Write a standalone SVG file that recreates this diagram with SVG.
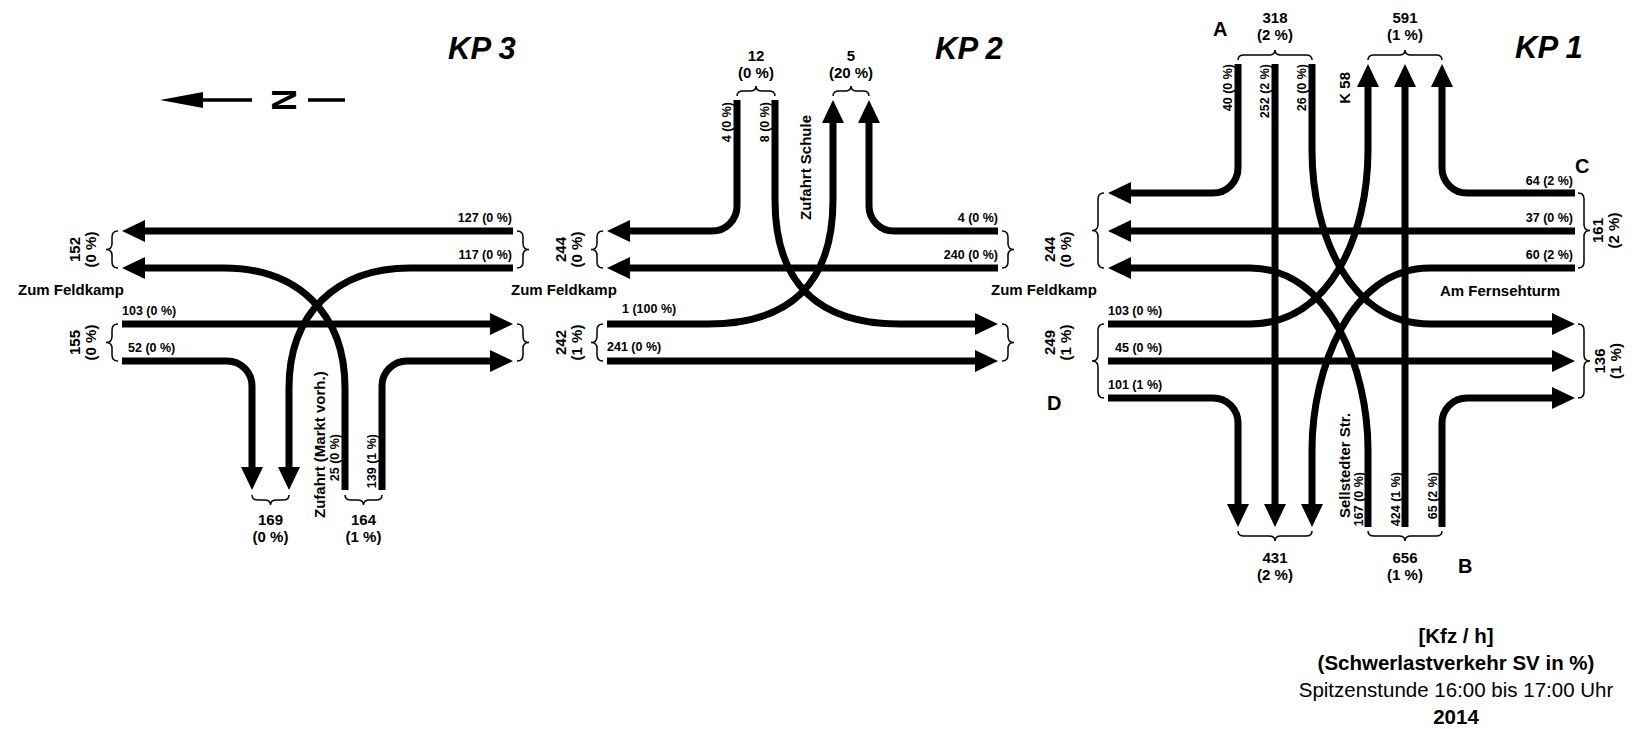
<svg xmlns="http://www.w3.org/2000/svg" width="1645" height="729" viewBox="0 0 1645 729">
  <style>
    text { font-family: "Liberation Sans", Arial, sans-serif; fill: #000; }
    .flow { fill: none; stroke: #000; stroke-width: 7; }
    .brace { fill: none; stroke: #000; stroke-width: 1.5; }
    .lbl { font-size: 12.5px; font-weight: bold; }
    .tot { font-size: 15px; font-weight: bold; text-anchor: middle; }
    .road { font-size: 15px; font-weight: bold; }
    .title { font-size: 31px; font-weight: bold; font-style: italic; }
    .pt { font-size: 20px; font-weight: bold; }
    .leg { font-size: 20.5px; text-anchor: middle; }
  </style>
  <defs>
    <marker id="ah" viewBox="0 0 23 22" refX="1" refY="11" markerWidth="23" markerHeight="22" markerUnits="userSpaceOnUse" orient="auto">
      <path d="M0,0 L23,11 L0,22 Z" fill="#000"/>
    </marker>
  </defs>
  <rect width="1645" height="729" fill="#fff"/>

  <!-- north arrow -->
  <g id="north">
    <polygon points="160,100 203,92 203,108" fill="#000"/>
    <line x1="202" y1="100" x2="252" y2="100" stroke="#000" stroke-width="3.5"/>
    <text transform="translate(296,100) rotate(-90) scale(0.85,1)" text-anchor="middle" font-size="36" font-weight="bold">N</text>
    <line x1="308" y1="100" x2="345" y2="100" stroke="#000" stroke-width="3.5"/>
  </g>

  <!-- traffic flows -->
  <g id="flows" marker-end="url(#ah)">
    <!-- KP 3 -->
    <path class="flow" d="M513 231 H144"/>
    <path class="flow" d="M513 268 H410 C337 268 289 313 289 388 V468"/>
    <path class="flow" d="M345 490 V388 C345 313 297 268 224 268 H144"/>
    <path class="flow" d="M122 324 H491"/>
    <path class="flow" d="M122 361 H227 A25 25 0 0 1 252 386 V468"/>
    <path class="flow" d="M382 490 V386 A25 25 0 0 1 407 361 H491"/>
    <!-- KP 2 -->
    <path class="flow" d="M737 100 V206 A25 25 0 0 1 712 231 H629"/>
    <path class="flow" d="M998 268 H629"/>
    <path class="flow" d="M775 100 V200 C775 285 820 324 900 324 H976"/>
    <path class="flow" d="M607 324 H708 C788 324 833 285 833 200 V122"/>
    <path class="flow" d="M998 231 H894 A25 25 0 0 1 869 206 V122"/>
    <path class="flow" d="M607 361 H976"/>
    <!-- KP 1 -->
    <path class="flow" d="M1238 64 V168 A25 25 0 0 1 1213 193 H1130"/>
    <path class="flow" d="M1275 64 V505"/>
    <path class="flow" d="M1312 64 V150 C1312 235 1350 324 1430 324 H1553"/>
    <path class="flow" d="M1575 193 H1467 A25 25 0 0 1 1442 168 V86"/>
    <path class="flow" d="M1575 231 H1130"/>
    <path class="flow" d="M1575 268 H1430 C1350 268 1312 370 1312 450 V505"/>
    <path class="flow" d="M1108 324 H1250 C1330 324 1368 235 1368 150 V86"/>
    <path class="flow" d="M1108 361 H1553"/>
    <path class="flow" d="M1108 398 H1213 A25 25 0 0 1 1238 423 V505"/>
    <path class="flow" d="M1368 527 V450 C1368 370 1330 268 1250 268 H1130"/>
    <path class="flow" d="M1405 527 V86"/>
    <path class="flow" d="M1442 527 V423 A25 25 0 0 1 1467 398 H1553"/>
  </g>

  <!-- KP 3 -->
  <g id="kp3">
    <text class="title" x="448" y="59">KP 3</text>
    <path class="brace" d="M118 231 Q112 231 112 237 L112 243.5 Q112 249.5 106 249.5 Q112 249.5 112 255.5 L112 262 Q112 268 118 268"/>
    <path class="brace" d="M118 324 Q112 324 112 330 L112 336.5 Q112 342.5 106 342.5 Q112 342.5 112 348.5 L112 355 Q112 361 118 361"/>
    <path class="brace" d="M517 231 Q523 231 523 237 L523 243.5 Q523 249.5 529 249.5 Q523 249.5 523 255.5 L523 262 Q523 268 517 268"/>
    <path class="brace" d="M517 324 Q523 324 523 330 L523 336.5 Q523 342.5 529 342.5 Q523 342.5 523 348.5 L523 355 Q523 361 517 361"/>
    <path class="brace" d="M252 495 Q252 500 258 500 L264.5 500 Q270.5 500 270.5 505 Q270.5 500 276.5 500 L283 500 Q289 500 289 495"/>
    <path class="brace" d="M345 495 Q345 500 351 500 L357.5 500 Q363.5 500 363.5 505 Q363.5 500 369.5 500 L376 500 Q382 500 382 495"/>
    <text class="lbl" x="512" y="222" text-anchor="end">127 (0 %)</text>
    <text class="lbl" x="512" y="259" text-anchor="end">117 (0 %)</text>
    <text class="lbl" x="122" y="315">103 (0 %)</text>
    <text class="lbl" x="128" y="352">52 (0 %)</text>
    <text class="lbl" text-anchor="end" transform="translate(339,434) rotate(-90)">25 (0 %)</text>
    <text class="lbl" text-anchor="end" transform="translate(376,434) rotate(-90)">139 (1 %)</text>
    <text class="road" transform="translate(325,518) rotate(-90)">Zufahrt (Markt vorh.)</text>
    <text class="road" x="18" y="295">Zum Feldkamp</text>
    <text class="tot" transform="translate(80,249.5) rotate(-90)">152</text>
    <text class="tot" transform="translate(96,249.5) rotate(-90)">(0 %)</text>
    <text class="tot" transform="translate(80,342.5) rotate(-90)">155</text>
    <text class="tot" transform="translate(96,342.5) rotate(-90)">(0 %)</text>
    <text class="tot" transform="translate(566,249.5) rotate(-90)">244</text>
    <text class="tot" transform="translate(582,249.5) rotate(-90)">(0 %)</text>
    <text class="tot" transform="translate(566,342.5) rotate(-90)">242</text>
    <text class="tot" transform="translate(582,342.5) rotate(-90)">(1 %)</text>
    <text class="tot" x="270.5" y="525">169</text>
    <text class="tot" x="270.5" y="542">(0 %)</text>
    <text class="tot" x="363.5" y="525">164</text>
    <text class="tot" x="363.5" y="542">(1 %)</text>
  </g>

  <!-- KP 2 -->
  <g id="kp2">
    <text class="title" x="935" y="59">KP 2</text>
    <path class="brace" d="M603 231 Q597 231 597 237 L597 243.5 Q597 249.5 591 249.5 Q597 249.5 597 255.5 L597 262 Q597 268 603 268"/>
    <path class="brace" d="M603 324 Q597 324 597 330 L597 336.5 Q597 342.5 591 342.5 Q597 342.5 597 348.5 L597 355 Q597 361 603 361"/>
    <path class="brace" d="M1002 231 Q1008 231 1008 237 L1008 243.5 Q1008 249.5 1014 249.5 Q1008 249.5 1008 255.5 L1008 262 Q1008 268 1002 268"/>
    <path class="brace" d="M1002 324 Q1008 324 1008 330 L1008 336.5 Q1008 342.5 1014 342.5 Q1008 342.5 1008 348.5 L1008 355 Q1008 361 1002 361"/>
    <path class="brace" d="M737 96 Q737 91 743 91 L750 91 Q756 91 756 86 Q756 91 762 91 L769 91 Q775 91 775 96"/>
    <path class="brace" d="M833 96 Q833 91 839 91 L845 91 Q851 91 851 86 Q851 91 857 91 L863 91 Q869 91 869 96"/>
    <text class="tot" x="756" y="61">12</text>
    <text class="tot" x="756" y="78">(0 %)</text>
    <text class="tot" x="851" y="61">5</text>
    <text class="tot" x="851" y="78">(20 %)</text>
    <text class="lbl" x="998" y="222" text-anchor="end">4 (0 %)</text>
    <text class="lbl" x="998" y="259" text-anchor="end">240 (0 %)</text>
    <text class="lbl" x="622" y="313">1 (100 %)</text>
    <text class="lbl" x="607" y="351">241 (0 %)</text>
    <text class="lbl" text-anchor="end" transform="translate(731,102) rotate(-90)">4 (0 %)</text>
    <text class="lbl" text-anchor="end" transform="translate(769,102) rotate(-90)">8 (0 %)</text>
    <text class="road" transform="translate(811,220) rotate(-90)">Zufahrt Schule</text>
    <text class="road" x="511" y="295">Zum Feldkamp</text>
    <text class="tot" transform="translate(1055,249.5) rotate(-90)">244</text>
    <text class="tot" transform="translate(1071,249.5) rotate(-90)">(0 %)</text>
    <text class="tot" transform="translate(1055,342.5) rotate(-90)">249</text>
    <text class="tot" transform="translate(1071,342.5) rotate(-90)">(1 %)</text>
  </g>

  <!-- KP 1 -->
  <g id="kp1">
    <text class="title" x="1515" y="58">KP 1</text>
    <path class="brace" d="M1104 193 Q1098 193 1098 199 L1098 224.5 Q1098 230.5 1092 230.5 Q1098 230.5 1098 236.5 L1098 262 Q1098 268 1104 268"/>
    <path class="brace" d="M1104 324 Q1098 324 1098 330 L1098 355 Q1098 361 1092 361 Q1098 361 1098 367 L1098 392 Q1098 398 1104 398"/>
    <path class="brace" d="M1578 193 Q1584 193 1584 199 L1584 224.5 Q1584 230.5 1590 230.5 Q1584 230.5 1584 236.5 L1584 262 Q1584 268 1578 268"/>
    <path class="brace" d="M1578 324 Q1584 324 1584 330 L1584 355 Q1584 361 1590 361 Q1584 361 1584 367 L1584 392 Q1584 398 1578 398"/>
    <path class="brace" d="M1238 60 Q1238 55 1244 55 L1269 55 Q1275 55 1275 50 Q1275 55 1281 55 L1306 55 Q1312 55 1312 60"/>
    <path class="brace" d="M1368 60 Q1368 55 1374 55 L1399 55 Q1405 55 1405 50 Q1405 55 1411 55 L1436 55 Q1442 55 1442 60"/>
    <path class="brace" d="M1238 531 Q1238 536 1244 536 L1269 536 Q1275 536 1275 541 Q1275 536 1281 536 L1306 536 Q1312 536 1312 531"/>
    <path class="brace" d="M1368 531 Q1368 536 1374 536 L1399 536 Q1405 536 1405 541 Q1405 536 1411 536 L1436 536 Q1442 536 1442 531"/>
    <text class="tot" x="1275" y="23">318</text>
    <text class="tot" x="1275" y="40">(2 %)</text>
    <text class="tot" x="1405" y="23">591</text>
    <text class="tot" x="1405" y="40">(1 %)</text>
    <text class="tot" x="1275" y="563">431</text>
    <text class="tot" x="1275" y="580">(2 %)</text>
    <text class="tot" x="1405" y="563">656</text>
    <text class="tot" x="1405" y="580">(1 %)</text>
    <text class="tot" transform="translate(1603,230.5) rotate(-90)">161</text>
    <text class="tot" transform="translate(1619,230.5) rotate(-90)">(2 %)</text>
    <text class="tot" transform="translate(1605,361) rotate(-90)">136</text>
    <text class="tot" transform="translate(1621,361) rotate(-90)">(1 %)</text>
    <text class="lbl" x="1573" y="185" text-anchor="end">64 (2 %)</text>
    <text class="lbl" x="1573" y="222" text-anchor="end">37 (0 %)</text>
    <text class="lbl" x="1573" y="259" text-anchor="end">60 (2 %)</text>
    <text class="lbl" x="1108" y="315">103 (0 %)</text>
    <text class="lbl" x="1115" y="352">45 (0 %)</text>
    <text class="lbl" x="1108" y="389">101 (1 %)</text>
    <text class="lbl" text-anchor="end" transform="translate(1232,64) rotate(-90)">40 (0 %)</text>
    <text class="lbl" text-anchor="end" transform="translate(1269,64) rotate(-90)">252 (2 %)</text>
    <text class="lbl" text-anchor="end" transform="translate(1306,64) rotate(-90)">26 (0 %)</text>
    <text class="lbl" text-anchor="end" transform="translate(1363,472) rotate(-90)">167 (0 %)</text>
    <text class="lbl" text-anchor="end" transform="translate(1400,472) rotate(-90)">424 (1 %)</text>
    <text class="lbl" text-anchor="end" transform="translate(1437,472) rotate(-90)">65 (2 %)</text>
    <text class="road" text-anchor="end" transform="translate(1350,72) rotate(-90)">K 58</text>
    <text class="road" transform="translate(1350,518) rotate(-90)">Sellstedter Str.</text>
    <text class="road" x="991" y="295">Zum Feldkamp</text>
    <text class="road" x="1440" y="296">Am Fernsehturm</text>
    <text class="pt" x="1213" y="36">A</text>
    <text class="pt" x="1458" y="573">B</text>
    <text class="pt" x="1575" y="173">C</text>
    <text class="pt" x="1047" y="410">D</text>
  </g>

  <!-- legend -->
  <g id="legend">
    <text class="leg" x="1456" y="643" font-weight="bold">[Kfz / h]</text>
    <text class="leg" x="1456" y="670" font-weight="bold">(Schwerlastverkehr SV in %)</text>
    <text class="leg" x="1456" y="697">Spitzenstunde 16:00 bis 17:00 Uhr</text>
    <text class="leg" x="1456" y="724" font-weight="bold">2014</text>
  </g>
</svg>
